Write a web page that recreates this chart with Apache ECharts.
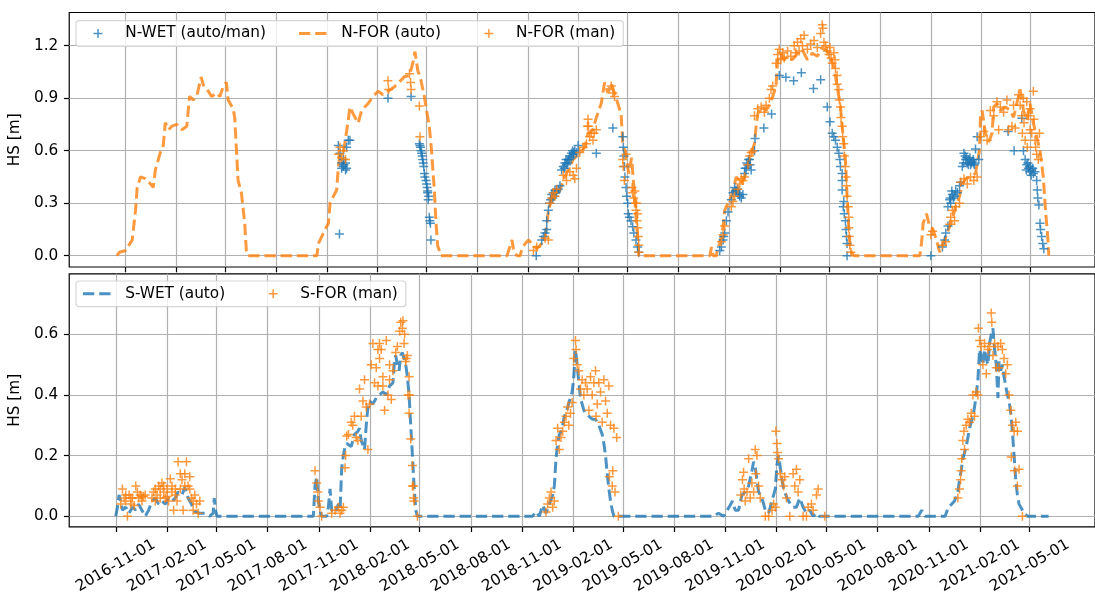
<!DOCTYPE html>
<html><head><meta charset="utf-8">
<script src="https://cdn.jsdelivr.net/npm/echarts@6/dist/echarts.min.js"></script>
<style>html,body{margin:0;padding:0;background:#fff}#c{width:1095px;height:596px}</style>
</head><body><div id="c"></div>
<script>
// x values are days since DAY0
const DAY0 = '2016-11-01';
const xTickLabels = ['2016-11-01','2017-02-01','2017-05-01','2017-08-01','2017-11-01','2018-02-01','2018-05-01','2018-08-01','2018-11-01','2019-02-01','2019-05-01','2019-08-01','2019-11-01','2020-02-01','2020-05-01','2020-08-01','2020-11-01','2021-02-01','2021-05-01'];
const hsTopTicks = [0, 0.3, 0.6, 0.9, 1.2];
const hsBottomTicks = [0, 0.2, 0.4, 0.6, 0.8];

const nWetAutoMan = [
[388,0.124],[386,0.63],[389,0.585],[392,0.53],[395,0.51],[399,0.49],[401,0.50],[395,0.55],[401,0.62],[404,0.66],[407,0.66],[399,0.53],[392,0.50],[396,0.52],
[476,0.90],[518,0.91],[533,0.64],[534,0.63],[535,0.62],[536,0.60],[537,0.585],[538,0.57],[539,0.55],[540,0.53],[541,0.51],[542,0.47],[543,0.45],[545,0.43],[546,0.41],[547,0.39],[548,0.36],[548,0.37],[549,0.32],[550,0.34],[551,0.22],[552,0.20],[553,0.185],[554,0.09],
[745,0.0],[755,0.09],[758,0.11],[761,0.13],[764,0.15],[764,0.20],[767,0.26],[769,0.30],[771,0.32],[773,0.35],[775,0.33],[776,0.36],[778,0.34],[779,0.375],[781,0.36],[782,0.37],[785,0.38],[788,0.40],[791,0.49],[794,0.51],[796,0.50],[797,0.53],[799,0.55],[800,0.52],[802,0.53],[803,0.55],[805,0.55],[806,0.57],[808,0.56],[809,0.585],[811,0.60],[812,0.58],[813,0.59],[815,0.60],[818,0.59],[821,0.63],[854,0.585],[884,0.73],[902,0.68],[903,0.62],[904,0.57],[905,0.51],[906,0.45],[908,0.39],[909,0.34],[911,0.30],[912,0.24],[914,0.22],[917,0.20],[920,0.166],[922,0.13],[926,0.09],[929,0.05],[931,0.02],
[1078,0.03],[1081,0.05],[1084,0.09],[1085,0.11],[1087,0.13],[1090,0.20],[1093,0.25],[1099,0.32],[1102,0.36],[1105,0.39],[1106,0.37],[1108,0.37],[1110,0.38],[1111,0.36],[1113,0.35],[1114,0.34],[1117,0.33],[1120,0.35],[1123,0.47],[1124,0.50],[1126,0.50],[1127,0.53],[1129,0.52],[1130,0.55],[1132,0.55],[1133,0.52],[1135,0.49],[1141,0.60],[1142,0.67],[1158,0.73],[1172,0.81],[1186,1.03],[1198,1.02],[1212,1.0],[1226,1.046],[1248,0.956],[1261,1.005],[1273,0.85],[1278,0.766],[1282,0.70],[1285,0.68],[1288,0.66],[1291,0.62],[1294,0.585],[1296,0.55],[1297,0.51],[1300,0.47],[1300,0.43],[1300,0.375],[1302,0.28],[1303,0.31],[1304,0.24],[1306,0.20],[1307,0.15],[1308,0.11],[1309,0.07],[1309,0.0],
[1461,0.0],[1482,0.05],[1486,0.09],[1488,0.13],[1492,0.17],[1492,0.28],[1495,0.32],[1496,0.33],[1497,0.30],[1499,0.37],[1500,0.35],[1502,0.33],[1504,0.34],[1506,0.37],[1509,0.36],[1513,0.40],[1515,0.42],[1518,0.51],[1520,0.53],[1521,0.585],[1523,0.57],[1524,0.55],[1526,0.56],[1527,0.53],[1529,0.52],[1530,0.55],[1532,0.56],[1533,0.52],[1535,0.53],[1536,0.54],[1538,0.55],[1539,0.53],[1540,0.52],[1542,0.61],[1545,0.68],[1548,0.55],[1601,0.71],[1612,0.60],[1626,0.785],[1629,0.60],[1632,0.55],[1634,0.49],[1635,0.52],[1637,0.53],[1638,0.50],[1640,0.51],[1641,0.48],[1643,0.46],[1644,0.49],[1646,0.50],[1647,0.47],[1650,0.48],[1653,0.43],[1654,0.375],[1655,0.33],[1657,0.29],[1659,0.185],[1660,0.15],[1662,0.11],[1664,0.07],[1666,0.04]
];

const nForAuto = [
[-16,0],[-11,0.02],[0,0.03],[12,0.09],[18,0.26],[21,0.39],[27,0.45],[36,0.44],[45,0.41],[50,0.39],[54,0.49],[63,0.59],[68,0.62],[72,0.76],[78,0.72],[84,0.74],[93,0.75],[102,0.72],[111,0.74],[116,0.91],[123,0.89],[129,0.91],[137,1.02],[141,0.975],[150,0.94],[156,0.91],[165,0.93],[171,0.91],[178,0.975],[183,0.99],[186,0.89],[195,0.84],[198,0.79],[204,0.43],[210,0.36],[216,0.19],[219,0.03],[222,0],
[347,0],[350,0.07],[356,0.11],[362,0.15],[368,0.185],[371,0.30],[377,0.34],[383,0.375],[386,0.51],[389,0.57],[395,0.585],[404,0.775],[407,0.85],[413,0.81],[422,0.757],[428,0.83],[440,0.87],[449,0.91],[458,0.94],[467,0.92],[476,0.94],[488,0.966],[497,0.994],[506,1.023],[515,1.03],[521,1.10],[525,1.166],[530,1.06],[536,1.0],[542,0.91],[545,0.85],[551,0.74],[555,0.60],[560,0.38],[563,0.2],[566,0.06],[572,0],
[692,0],[701,0.09],[704,0.03],[710,0],[716,0],[719,0.04],[725,0.07],[731,0.09],[737,0.07],[746,0.04],[755,0.07],[761,0.11],[764,0.166],[767,0.26],[773,0.32],[782,0.34],[788,0.375],[794,0.43],[803,0.49],[812,0.55],[824,0.585],[833,0.62],[839,0.70],[848,0.72],[854,0.79],[863,0.87],[869,0.99],[875,0.93],[881,0.985],[887,0.93],[893,0.87],[899,0.81],[902,0.64],[908,0.57],[913,0.47],[918,0.56],[922,0.40],[926,0.22],[929,0.11],[931,0],
[1060,0],[1063,0.05],[1066,0],[1072,0],[1074,0.04],[1078,0.07],[1084,0.166],[1087,0.26],[1093,0.30],[1099,0.34],[1108,0.45],[1117,0.41],[1123,0.45],[1129,0.51],[1135,0.585],[1141,0.64],[1144,0.74],[1147,0.81],[1153,0.85],[1162,0.83],[1168,0.86],[1174,0.91],[1180,0.966],[1183,1.12],[1189,1.157],[1195,1.12],[1201,1.14],[1210,1.12],[1219,1.157],[1228,1.175],[1237,1.12],[1246,1.157],[1255,1.14],[1264,1.19],[1270,1.175],[1276,1.157],[1285,1.08],[1291,0.966],[1297,0.85],[1300,0.74],[1306,0.55],[1309,0.34],[1312,0.166],[1315,0.03],[1321,0],
[1441,0],[1444,0.07],[1447,0.185],[1453,0.24],[1459,0.166],[1465,0.15],[1471,0.09],[1477,0.02],[1483,0.07],[1488,0.11],[1495,0.166],[1501,0.22],[1506,0.28],[1513,0.34],[1518,0.41],[1524,0.44],[1533,0.45],[1542,0.47],[1549,0.60],[1551,0.79],[1554,0.83],[1560,0.70],[1566,0.65],[1572,0.70],[1575,0.85],[1581,0.87],[1587,0.83],[1596,0.85],[1605,0.83],[1611,0.79],[1617,0.87],[1623,0.95],[1629,0.83],[1635,0.775],[1641,0.87],[1647,0.757],[1653,0.68],[1659,0.60],[1665,0.45],[1669,0.26],[1673,0.11],[1675,0]
];

const nForMan = [
[386,0.58],[389,0.62],[392,0.56],[395,0.60],[399,0.55],[476,1.0],[477,0.95],[515,1.04],[517,0.99],[518,0.95],[533,0.855],[534,0.68],
[740,0.03],[746,0.05],[761,0.10],[767,0.09],[770,0.30],[773,0.33],[776,0.36],[779,0.34],[782,0.38],[794,0.46],[800,0.43],[806,0.48],[812,0.46],[815,0.44],[818,0.50],[824,0.59],[830,0.62],[836,0.64],[838,0.74],[839,0.78],[840,0.74],[842,0.68],[845,0.70],[848,0.66],[850,0.70],[854,0.72],[881,0.97],[884,0.93],[887,0.91],[902,0.55],[903,0.51],[905,0.43],[908,0.58],[919,0.39],[920,0.36],[922,0.33],[924,0.37],[925,0.30],[926,0.26],[927,0.30],[928,0.20],[929,0.24],[929,0.16],[930,0.11],[931,0.06],[931,0.02],
[1081,0.08],[1084,0.12],[1087,0.17],[1099,0.28],[1102,0.31],[1105,0.34],[1111,0.38],[1114,0.41],[1117,0.44],[1120,0.43],[1123,0.45],[1129,0.52],[1132,0.57],[1135,0.59],[1138,0.60],[1141,0.80],[1147,0.84],[1153,0.85],[1159,0.82],[1162,0.86],[1168,0.90],[1171,0.95],[1174,0.97],[1180,1.10],[1183,1.15],[1186,1.18],[1189,1.12],[1192,1.16],[1195,1.13],[1201,1.17],[1207,1.14],[1213,1.20],[1216,1.16],[1219,1.22],[1222,1.17],[1225,1.24],[1228,1.20],[1231,1.26],[1237,1.18],[1243,1.21],[1249,1.23],[1255,1.19],[1261,1.27],[1264,1.32],[1265,1.30],[1267,1.22],[1270,1.20],[1273,1.17],[1276,1.15],[1278,1.19],[1280,1.13],[1282,1.10],[1285,1.16],[1287,1.12],[1288,1.07],[1291,1.03],[1291,0.98],[1294,0.95],[1295,0.89],[1297,0.85],[1298,0.79],[1300,0.74],[1301,0.68],[1303,0.64],[1304,0.57],[1306,0.51],[1307,0.45],[1308,0.40],[1309,0.34],[1311,0.28],[1312,0.22],[1312,0.16],[1313,0.11],[1314,0.06],[1316,0.02],
[1461,0.12],[1464,0.14],[1482,0.06],[1488,0.08],[1495,0.18],[1497,0.22],[1500,0.26],[1504,0.20],[1506,0.28],[1513,0.30],[1515,0.42],[1521,0.44],[1527,0.41],[1533,0.45],[1539,0.43],[1545,0.45],[1551,0.68],[1557,0.71],[1563,0.66],[1569,0.83],[1575,0.80],[1581,0.88],[1584,0.72],[1587,0.85],[1593,0.82],[1599,0.89],[1602,0.72],[1608,0.74],[1611,0.86],[1614,0.73],[1620,0.92],[1623,0.86],[1626,0.80],[1627,0.70],[1629,0.90],[1630,0.76],[1632,0.66],[1635,0.88],[1636,0.62],[1638,0.80],[1641,0.84],[1641,0.72],[1644,0.70],[1647,0.94],[1648,0.78],[1650,0.66],[1651,0.62],[1653,0.58],[1656,0.55],[1658,0.70]
];

const sWetAuto = [
[0,0],[3,0.03],[6,0.07],[9,0.05],[12,0.02],[18,0.03],[24,0.01],[30,0.03],[36,0.02],[41,0.04],[47,0.02],[53,0],[59,0.02],[65,0.05],[71,0.06],[77,0.04],[83,0.05],[89,0.04],[95,0.06],[101,0.05],[107,0.06],[112,0.08],[119,0.07],[124,0.095],[130,0.06],[136,0.04],[142,0.015],[151,0.01],[160,0.01],[169,0],[175,0.01],[177,0.06],[179,0.02],[182,0],
[355,0],[358,0.10],[361,0.13],[364,0.05],[367,0.02],[370,0],[379,0],[382,0.03],[385,0.09],[388,0.02],[394,0.01],[400,0.04],[403,0.02],[406,0.16],[409,0.20],[412,0.23],[415,0.24],[418,0.245],[423,0.23],[429,0.27],[435,0.28],[438,0.29],[441,0.25],[447,0.22],[450,0.30],[453,0.36],[456,0.38],[462,0.37],[468,0.39],[474,0.40],[480,0.41],[486,0.40],[492,0.43],[498,0.44],[501,0.52],[503,0.53],[506,0.50],[509,0.48],[512,0.53],[515,0.54],[518,0.52],[521,0.50],[524,0.46],[527,0.40],[530,0.30],[533,0.20],[536,0.10],[539,0.02],[542,0],
[749,0],[755,0.015],[761,0],[767,0.036],[773,0.01],[779,0.04],[785,0.07],[788,0.10],[791,0.19],[794,0.24],[797,0.27],[800,0.28],[803,0.30],[806,0.33],[809,0.34],[812,0.36],[814,0.375],[817,0.39],[820,0.41],[823,0.46],[826,0.55],[829,0.50],[832,0.44],[835,0.39],[838,0.37],[841,0.35],[844,0.34],[850,0.33],[856,0.32],[862,0.32],[868,0.30],[874,0.27],[877,0.24],[880,0.20],[883,0.14],[886,0.09],[889,0.05],[892,0.02],[895,0],
[1074,0],[1083,0.01],[1092,0],[1102,0.03],[1108,0.05],[1113,0.02],[1119,0.02],[1125,0.07],[1131,0.08],[1137,0.10],[1143,0.15],[1146,0.18],[1149,0.16],[1152,0.12],[1155,0.08],[1161,0.06],[1167,0.02],[1173,0.01],[1179,0.05],[1185,0.09],[1188,0.17],[1191,0.20],[1194,0.16],[1197,0.12],[1200,0.09],[1206,0.06],[1212,0.04],[1217,0.03],[1223,0.03],[1229,0.06],[1235,0.03],[1241,0.01],[1247,0.02],[1253,0],[1259,0.01],[1264,0],
[1442,0],[1448,0.02],[1454,0],[1490,0],[1496,0.03],[1502,0.04],[1507,0.05],[1513,0.08],[1516,0.12],[1519,0.15],[1522,0.19],[1525,0.21],[1528,0.23],[1531,0.26],[1534,0.29],[1537,0.31],[1540,0.33],[1543,0.36],[1546,0.40],[1549,0.45],[1552,0.55],[1555,0.53],[1558,0.50],[1561,0.55],[1564,0.52],[1567,0.50],[1570,0.57],[1573,0.60],[1576,0.62],[1579,0.55],[1582,0.50],[1585,0.39],[1587,0.51],[1590,0.48],[1593,0.50],[1596,0.46],[1599,0.43],[1602,0.40],[1605,0.38],[1608,0.34],[1611,0.28],[1614,0.20],[1617,0.12],[1620,0.07],[1623,0.04],[1626,0.03],[1632,0.01],[1638,0],[1676,0]
];

const sForMan = [
[9,0.04],[12,0.09],[15,0.06],[18,0.05],[21,0],[24,0.07],[27,0.04],[30,0.06],[33,0.035],[36,0.10],[39,0.08],[41,0.06],[44,0.07],[47,0.05],[50,0.065],[53,0.07],[65,0.06],[68,0.08],[71,0.05],[74,0.07],[77,0.10],[80,0.09],[83,0.11],[86,0.08],[89,0.06],[92,0.09],[95,0.05],[98,0.124],[101,0.08],[104,0.02],[107,0.07],[110,0.05],[112,0.18],[116,0.14],[119,0.12],[121,0.02],[124,0.14],[127,0.18],[130,0.10],[133,0.13],[136,0.06],[139,0.02],[142,0.07],[145,0.04],[148,0.01],[151,0.05],
[18,0.07],[27,0.06],[47,0.065],[71,0.09],[80,0.06],[86,0.10],[92,0.065],[101,0.10],[107,0.09],[116,0.09],[124,0.10],[133,0.09],[139,0.05],
[358,0.15],[361,0.11],[363,0.08],[364,0.05],[367,0.03],[370,0],[388,0.01],[394,0.02],[400,0.03],[403,0.01],[406,0.02],[409,0.03],[412,0.16],[413,0.20],[415,0.265],[418,0.27],[423,0.31],[426,0.30],[429,0.33],[432,0.26],[435,0.25],[438,0.42],[441,0.33],[444,0.38],[447,0.45],[450,0.36],[453,0.22],[456,0.37],[459,0.50],[462,0.57],[465,0.44],[468,0.49],[471,0.43],[474,0.52],[477,0.55],[480,0.46],[483,0.35],[486,0.58],[489,0.40],[492,0.50],[495,0.385],[498,0.48],[506,0.56],[512,0.64],[515,0.62],[518,0.57],[521,0.51],[524,0.53],[527,0.46],[528,0.40],[530,0.255],[533,0.167],[535,0.10],[536,0.05],[542,0],
[471,0.55],[474,0.57],[480,0.43],[492,0.45],[503,0.54],[510,0.61],[516,0.645],[519,0.60],[522,0.52],[525,0.40],[527,0.34],[533,0.10],[535,0.06],
[773,0.014],[776,0.04],[779,0.06],[782,0.08],[785,0.03],[788,0.05],[791,0.25],[794,0.29],[797,0.22],[800,0.26],[803,0.28],[806,0.31],[809,0.33],[812,0.36],[814,0.30],[817,0.34],[820,0.375],[823,0.52],[826,0.58],[827,0.55],[829,0.50],[832,0.48],[835,0.42],[838,0.45],[841,0.40],[844,0.44],[847,0.42],[850,0.35],[853,0.46],[856,0.40],[859,0.44],[862,0.48],[863,0.33],[865,0.37],[868,0.44],[871,0.41],[874,0.31],[877,0.45],[880,0.38],[883,0.34],[886,0.43],[887,0.13],[889,0.30],[892,0.10],[893,0.15],[895,0.29],[897,0.08],[900,0.26],[903,0],
[1123,0.07],[1126,0.12],[1128,0.145],[1129,0.09],[1131,0.05],[1134,0.08],[1137,0.19],[1140,0.06],[1143,0.11],[1146,0.08],[1149,0.22],[1150,0.14],[1152,0.20],[1155,0.10],[1158,0.06],[1167,0],[1173,0],[1179,0.02],[1182,0.04],[1185,0.03],[1186,0.28],[1188,0.24],[1189,0.21],[1191,0.19],[1194,0.14],[1197,0.12],[1200,0.10],[1202,0.13],[1205,0.06],[1211,0],[1217,0.14],[1220,0.10],[1223,0.155],[1226,0.08],[1229,0.12],[1235,0],[1241,0],[1244,0.03],[1250,0.04],[1253,0.02],[1259,0.07],[1262,0.09],[1274,0],
[1513,0.06],[1516,0.09],[1518,0.12],[1519,0.15],[1520,0.19],[1522,0.25],[1524,0.28],[1525,0.22],[1528,0.30],[1531,0.32],[1534,0.31],[1537,0.34],[1540,0.40],[1543,0.33],[1546,0.41],[1549,0.40],[1550,0.62],[1552,0.58],[1555,0.56],[1558,0.50],[1561,0.57],[1564,0.47],[1567,0.55],[1570,0.56],[1573,0.67],[1574,0.64],[1576,0.53],[1579,0.57],[1582,0.49],[1585,0.56],[1587,0.49],[1590,0.57],[1593,0.55],[1596,0.52],[1599,0.47],[1602,0.50],[1605,0.40],[1608,0.35],[1609,0.195],[1611,0.30],[1614,0.28],[1615,0.15],[1617,0.31],[1620,0.28],[1620,0.10],[1623,0.155],[1629,0]
];

const BLUE = '#1f77b4', ORANGE = '#ff7f0e';
const FONT = 'DejaVu Sans';
const FS = 15.3;
// marker used for the data points
const PLUS = 'path://M5,0h2v12h-2z M0,5h12v2h-12z';
// legend handles: drawn in a 30x9 box (tiny corner specks fix the box so the handle sits like matplotlib's)
const CORNERS = ' M0,0h0.01v0.01h-0.01z M29.99,8.99h0.01v0.01h-0.01z';
const PLUS_HANDLE = 'path://M14.25,0h1.5v9h-1.5z M10.5,3.75h9v1.5h-9z' + CORNERS;
const DASH_HANDLE = 'path://M0,3h11.3v3h-11.3z M16.2,3h11.3v3h-11.3z' + CORNERS;

const dayOf = s => Math.round((Date.parse(s) - Date.parse(DAY0)) / 864e5);
const xTickDays = xTickLabels.map(dayOf);

const chart = echarts.init(document.getElementById('c'), null, {renderer: 'canvas'});

function xAxisCfg(gridIndex, min, max, showLabels) {
  return {
    type: 'value', gridIndex, min, max, position: 'bottom',
    axisLine: {show: false, onZero: false},
    axisTick: {show: true, customValues: xTickDays, length: 5.3, lineStyle: {color: '#000', width: 1.2}},
    axisLabel: {show: showLabels, customValues: xTickDays, rotate: 30, align: 'center', verticalAlign: 'middle', margin: 39,
      fontFamily: FONT, fontSize: FS, color: '#000',
      formatter: v => xTickLabels[xTickDays.indexOf(Math.round(v))] || ''},
    splitLine: {show: true, lineStyle: {color: '#b0b0b0', width: 1.2}}
  };
}
function yAxisCfg(gridIndex, min, max, ticks) {
  return {
    type: 'value', gridIndex, min, max, position: 'left',
    name: 'HS [m]', nameLocation: 'middle', nameGap: 35,
    nameTextStyle: {fontFamily: FONT, fontSize: FS, color: '#000'},
    axisLine: {show: false, onZero: false},
    axisTick: {show: true, customValues: ticks, length: 5.3, lineStyle: {color: '#000', width: 1.2}},
    axisLabel: {customValues: ticks, margin: 11, fontFamily: FONT, fontSize: FS, color: '#000',
      formatter: v => v.toFixed(1)},
    splitLine: {show: true, lineStyle: {color: '#b0b0b0', width: 1.2}}
  };
}
function legendCfg(top, items) {
  return {
    left: 76, top, orient: 'horizontal',
    itemWidth: 30, itemHeight: 9, itemGap: 33,
    padding: [5.3, 8, 5.3, 7],
    backgroundColor: 'rgba(255,255,255,0.8)',
    borderColor: 'rgba(204,204,204,0.8)', borderWidth: 1.2, borderRadius: 3,
    formatter: name => '{s| }{t|' + name + '}',
    textStyle: {fontFamily: FONT, fontSize: FS, color: '#000',
      rich: {s: {width: 7.2}, t: {fontFamily: FONT, fontSize: FS, color: '#000'}}},
    data: items
  };
}

const lineStyleDashed = c => ({width: 3, type: [11.3, 4.9], color: c, opacity: 0.8});

chart.setOption({
  animation: false,
  backgroundColor: '#fff',
  textStyle: {fontFamily: FONT},
  grid: [
    {left: 68, right: -10, top: 12.5, height: 254.5, show: true, borderColor: '#000', borderWidth: 1.2, backgroundColor: 'transparent', containLabel: false},
    {left: 68, right: -10, top: 273.8, height: 254.5, show: true, borderColor: '#000', borderWidth: 1.2, backgroundColor: 'transparent', containLabel: false}
  ],
  xAxis: [xAxisCfg(0, -102.3, 1758.8, false), xAxisCfg(1, -83.6, 1759.4, true)],
  yAxis: [yAxisCfg(0, -0.0646, 1.3897, hsTopTicks), yAxisCfg(1, -0.0348, 0.7997, hsBottomTicks)],
  legend: [
    legendCfg(20.7, [{name: 'N-WET (auto/man)', icon: PLUS_HANDLE}, {name: 'N-FOR (auto)', icon: DASH_HANDLE}, {name: 'N-FOR (man)', icon: PLUS_HANDLE}]),
    legendCfg(281, [{name: 'S-WET (auto)', icon: DASH_HANDLE}, {name: 'S-FOR (man)', icon: PLUS_HANDLE}])
  ],
  series: [
    {name: 'N-FOR (auto)', type: 'line', xAxisIndex: 0, yAxisIndex: 0, data: nForAuto,
      symbol: 'none', showSymbol: false, lineStyle: lineStyleDashed(ORANGE), itemStyle: {color: ORANGE, opacity: 0.8}, z: 2},
    {name: 'N-WET (auto/man)', type: 'scatter', xAxisIndex: 0, yAxisIndex: 0, data: nWetAutoMan,
      symbol: PLUS, symbolSize: 9, itemStyle: {color: BLUE, opacity: 0.8}, z: 3},
    {name: 'N-FOR (man)', type: 'scatter', xAxisIndex: 0, yAxisIndex: 0, data: nForMan,
      symbol: PLUS, symbolSize: 9, itemStyle: {color: ORANGE, opacity: 0.8}, z: 4},
    {name: 'S-WET (auto)', type: 'line', xAxisIndex: 1, yAxisIndex: 1, data: sWetAuto,
      symbol: 'none', showSymbol: false, lineStyle: lineStyleDashed(BLUE), itemStyle: {color: BLUE, opacity: 0.8}, z: 2},
    {name: 'S-FOR (man)', type: 'scatter', xAxisIndex: 1, yAxisIndex: 1, data: sForMan,
      symbol: PLUS, symbolSize: 9, itemStyle: {color: ORANGE, opacity: 0.8}, z: 4}
  ]
});
</script></body></html>
